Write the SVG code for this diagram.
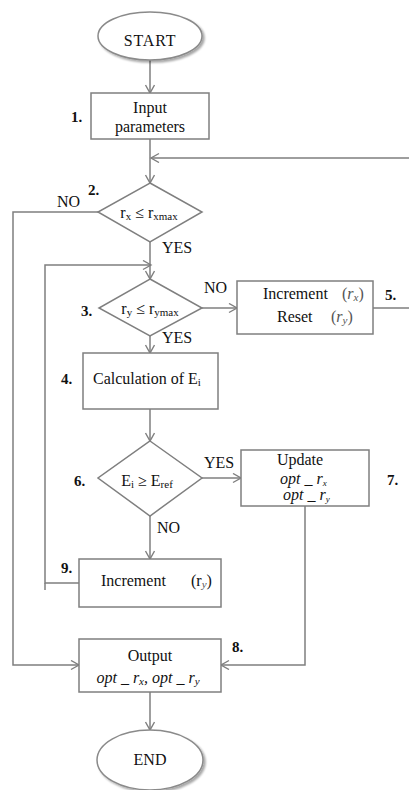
<svg xmlns="http://www.w3.org/2000/svg" width="409" height="790" viewBox="0 0 409 790">
<defs>
<marker id="ah" markerUnits="userSpaceOnUse" markerWidth="12" markerHeight="12" refX="9" refY="5" orient="auto">
<path d="M1,0.5 L9,5 L1,9.5" fill="none" stroke="#7f7f7f" stroke-width="1.4"/>
</marker>
<filter id="sh" x="-20%" y="-20%" width="140%" height="140%">
<feGaussianBlur in="SourceAlpha" stdDeviation="1.2"/>
<feOffset dx="1.5" dy="1.5" result="b"/>
<feComponentTransfer><feFuncA type="linear" slope="0.35"/></feComponentTransfer>
<feMerge><feMergeNode/><feMergeNode in="SourceGraphic"/></feMerge>
</filter>
</defs>
<style>
.box{fill:#fff;stroke:#7f7f7f;stroke-width:1.5}
.term{fill:#fff;stroke:#8a8a8a;stroke-width:1.5}
.con{fill:none;stroke:#7f7f7f;stroke-width:1.5}
.t{font-family:"Liberation Serif","Times New Roman",serif;font-size:16px;fill:#111}
.m{text-anchor:middle}
.n{font-family:"Liberation Serif","Times New Roman",serif;font-size:15px;font-weight:bold;fill:#111}
.i{font-style:italic}
.g{fill:#555}
.s{font-size:11px}
</style>
<rect width="409" height="790" fill="#fff"/>
<g id="connectors">
<path class="con" d="M150,60 V93" marker-end="url(#ah)"/>
<path class="con" d="M150,139 V183" marker-end="url(#ah)"/>
<path class="con" d="M373,308 H412 V158 H151" marker-end="url(#ah)"/>
<path class="con" d="M98,212 H13 V665 H79" marker-end="url(#ah)"/>
<path class="con" d="M150,242 V279" marker-end="url(#ah)"/>
<path class="con" d="M79,583 H45 V265 H151" marker-end="url(#ah)"/>
<path class="con" d="M45,583 V590"/>
<path class="con" d="M202,308 H237" marker-end="url(#ah)"/>
<path class="con" d="M150,336 V353" marker-end="url(#ah)"/>
<path class="con" d="M150,409 V441" marker-end="url(#ah)"/>
<path class="con" d="M202,478 H241" marker-end="url(#ah)"/>
<path class="con" d="M150,516 V559" marker-end="url(#ah)"/>
<path class="con" d="M305,506 V665 H221" marker-end="url(#ah)"/>
<path class="con" d="M150,692 V730" marker-end="url(#ah)"/>
<text class="t" x="57" y="207" font-size="15">NO</text>
<text class="t" x="162" y="253" font-size="15">YES</text>
<text class="t" x="204" y="293" font-size="15">NO</text>
<text class="t" x="162" y="343" font-size="15">YES</text>
<text class="t" x="204" y="468" font-size="15">YES</text>
<text class="t" x="157" y="533" font-size="15">NO</text>
</g>
<g id="start">
<ellipse class="term" cx="150" cy="36" rx="52" ry="24" filter="url(#sh)"/>
<text class="t m" x="150" y="46" letter-spacing="0.8">START</text>
</g>
<g id="n1">
<rect class="box" x="91" y="93" width="118" height="46"/>
<text class="t m" x="150" y="113">Input</text>
<text class="t m" x="150" y="132">parameters</text>
<text class="n" x="71" y="122">1.</text>
</g>
<g id="n2">
<polygon class="box" points="150,183 202,212 150,242 98,212"/>
<text class="t m" x="149" y="218" font-size="15">r<tspan class="s" dy="2">x</tspan><tspan dy="-2"> ≤ r</tspan><tspan class="s" dy="2">xmax</tspan></text>
<text class="n" x="88" y="195">2.</text>
</g>
<g id="n3">
<polygon class="box" points="150,279 202,308 150,336 99,308"/>
<text class="t m" x="150" y="314" font-size="15">r<tspan class="s" dy="2">y</tspan><tspan dy="-2"> ≤ r</tspan><tspan class="s" dy="2">ymax</tspan></text>
<text class="n" x="81" y="316">3.</text>
</g>
<g id="n4">
<rect class="box" x="83" y="353" width="135" height="56"/>
<text class="t" x="93" y="384">Calculation of E<tspan class="s" dy="2">i</tspan></text>
<text class="n" x="61" y="384">4.</text>
</g>
<g id="n5">
<rect class="box" x="237" y="281" width="136" height="53"/>
<text class="t" x="263" y="299">Increment</text>
<text class="t g" x="342" y="299">(<tspan class="i">r</tspan><tspan class="s i" dy="2">x</tspan><tspan dy="-2">)</tspan></text>
<text class="t" x="277" y="322">Reset</text>
<text class="t g" x="331" y="322">(<tspan class="i">r</tspan><tspan class="s i" dy="2">y</tspan><tspan dy="-2">)</tspan></text>
<text class="n" x="385" y="300">5.</text>
</g>
<g id="n6">
<polygon class="box" points="150,441 202,478 150,516 98,478"/>
<text class="t m" x="147" y="486" font-size="18">E<tspan class="s" dy="2">i</tspan><tspan dy="-2"> ≥ E</tspan><tspan class="s" dy="2">ref</tspan></text>
<text class="n" x="74" y="486">6.</text>
</g>
<g id="n7">
<rect class="box" x="241" y="450" width="128" height="56"/>
<text class="t m" x="300" y="465" font-size="15">Update</text>
<text class="t i" x="280" y="484" font-size="13">opt _ r<tspan dy="1.5" font-size="9">x</tspan></text>
<text class="t i" x="283" y="500" font-size="13">opt _ r<tspan dy="1.5" font-size="9">y</tspan></text>
<text class="n" x="387" y="485">7.</text>
</g>
<g id="n9">
<rect class="box" x="79" y="559" width="142" height="48"/>
<text class="t" x="101" y="586">Increment</text>
<text class="t" x="191" y="586">(r<tspan class="s i g" dy="2">y</tspan><tspan dy="-2">)</tspan></text>
<text class="n" x="61" y="573">9.</text>
</g>
<g id="n8">
<rect class="box" x="79" y="639" width="142" height="53"/>
<text class="t m" x="150" y="661">Output</text>
<text class="t i m" x="148" y="683">opt _ r<tspan class="s" dy="2">x</tspan><tspan dy="-2">, opt _ r</tspan><tspan class="s" dy="2">y</tspan></text>
<text class="n" x="232" y="652">8.</text>
</g>
<g id="end">
<ellipse class="term" cx="150" cy="760" rx="53" ry="30" filter="url(#sh)"/>
<text class="t m" x="150" y="765">END</text>
</g>
</svg>
